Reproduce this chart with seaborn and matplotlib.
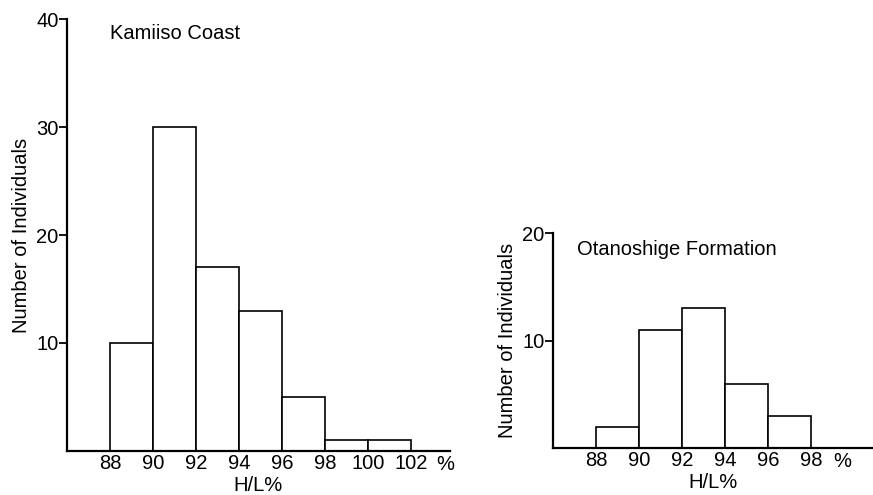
import matplotlib
matplotlib.use("Agg")
import matplotlib.pyplot as plt
import seaborn as sns
import numpy as np

# Data
kamiiso_edges = [88, 90, 92, 94, 96, 98, 100, 102]
kamiiso_counts = [10, 30, 17, 13, 5, 1, 1]
otano_edges = [88, 90, 92, 94, 96, 98]
otano_counts = [2, 11, 13, 6, 3]
kamiiso_title = "Kamiiso Coast"
otano_title = "Otanoshige Formation"
ylabel = "Number of Individuals"
xlabel = "H/L%"

sns.set_style("white")
plt.rcParams['font.family'] = ['Liberation Sans', 'DejaVu Sans']
plt.rcParams['text.color'] = 'black'
plt.rcParams['axes.labelcolor'] = 'black'
plt.rcParams['xtick.color'] = 'black'
plt.rcParams['ytick.color'] = 'black'

FS = 14.5

fig = plt.figure(figsize=(8.73, 4.95), dpi=100)
ax1 = fig.add_axes([0.0767, 0.0889, 0.4387, 0.8727])
ax2 = fig.add_axes([0.6334, 0.0949, 0.3666, 0.4343])

def draw(ax, edges, counts, ymax, xmax, title, title_x, title_y, yticks, pct_x):
    centers = [(a + b) / 2 for a, b in zip(edges[:-1], edges[1:])]
    sns.histplot(x=centers, weights=counts, bins=edges, ax=ax,
                 color="white", edgecolor="black", linewidth=1.2, alpha=1)
    ax.set_xlim(86, xmax)
    ax.set_ylim(0, ymax)
    ax.set_xticks(edges)
    ax.set_xticklabels([str(e) for e in edges], fontsize=FS)
    ax.set_yticks(yticks)
    ax.set_yticklabels([str(t) for t in yticks], fontsize=FS)
    ax.tick_params(axis='x', bottom=True, length=0, pad=2)
    ax.tick_params(axis='y', left=True, length=6, width=1.3, direction='out', color='black', pad=0)
    for s in ['top', 'right']:
        ax.spines[s].set_visible(False)
    for s in ['left', 'bottom']:
        ax.spines[s].set_color('black')
        ax.spines[s].set_linewidth(1.6)
    ax.set_ylabel(ylabel, fontsize=FS, labelpad=4)
    ax.set_xlabel(xlabel, fontsize=FS, labelpad=2.5)
    ax.text(title_x, title_y, title, fontsize=FS, ha='left', va='center')
    ax.annotate("%", xy=(pct_x, 0), xycoords='data', xytext=(0, -10), textcoords='offset points',
                fontsize=FS, ha='center', va='center')
    ax.patch.set_alpha(0)
    return ax

draw(ax1, kamiiso_edges, kamiiso_counts, 40, 103.81, kamiiso_title, 88.0, 38.7, [10, 20, 30, 40], 103.6)
draw(ax2, otano_edges, otano_counts, 20, 100.88, otano_title, 87.1, 18.5, [10, 20], 99.45)

fig.savefig("out.png", dpi=100)
